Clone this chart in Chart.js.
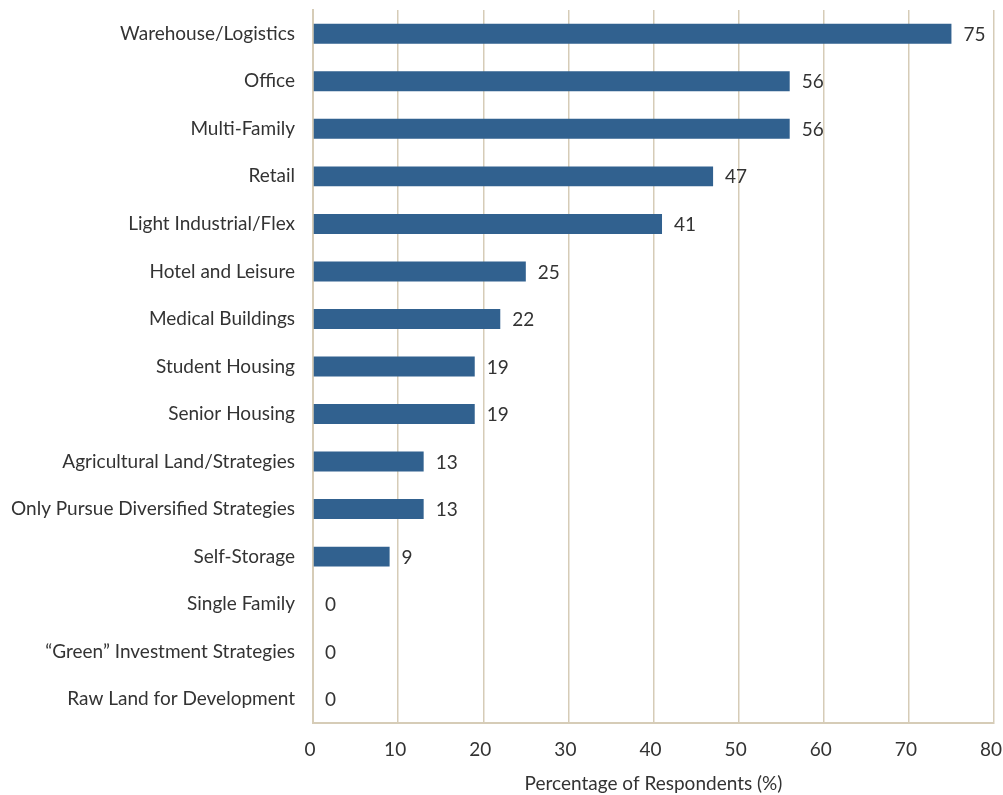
<!DOCTYPE html>
<html>
<head>
<meta charset="utf-8">
<script src="https://cdn.jsdelivr.net/npm/chart.js@4"></script>
<style>
  html, body { margin: 0; padding: 0; background: #fff; }
  #wrap { width: 1003px; height: 795px; }
</style>
</head>
<body>
<div id="wrap"><canvas id="sectorChart" width="1003" height="795"></canvas></div>
<script>
const sectors = [
    'Warehouse/Logistics', 'Office', 'Multi-Family', 'Retail',
    'Light Industrial/Flex', 'Hotel and Leisure', 'Medical Buildings',
    'Student Housing', 'Senior Housing', 'Agricultural Land/Strategies',
    'Only Pursue Diversified Strategies', 'Self-Storage', 'Single Family',
    '\u201CGreen\u201D Investment Strategies', 'Raw Land for Development'
];
const respondents = [75, 56, 56, 47, 41, 25, 22, 19, 19, 13, 13, 9, 0, 0, 0];
const xTicks = [0, 10, 20, 30, 40, 50, 60, 70, 80];

const gridColor = '#d6ccb7';
const textColor = '#333333';
const fontFamily = 'Lato, "Open Sans", sans-serif';
const fontSize = 19;

// value labels to the right of each bar
const barLabels = {
    id: 'barLabels',
    afterDatasetsDraw(chart) {
        const { ctx } = chart;
        const meta = chart.getDatasetMeta(0);
        ctx.save();
        ctx.font = fontSize + 'px ' + fontFamily;
        ctx.fillStyle = textColor;
        ctx.textAlign = 'left';
        ctx.textBaseline = 'middle';
        meta.data.forEach((bar, i) => {
            ctx.fillText(String(respondents[i]), bar.x + 12, bar.y + 1);
        });
        ctx.restore();
    }
};

const ctx = document.getElementById('sectorChart').getContext('2d');

const chart = new Chart(ctx, {
    type: 'bar',
    data: {
        labels: sectors,
        datasets: [{
            data: respondents,
            backgroundColor: '#31618f',
            barPercentage: 0.42,
            categoryPercentage: 1
        }]
    },
    options: {
        indexAxis: 'y',
        animation: false,
        responsive: false,
        layout: { padding: { top: 10, right: 9, left: 0, bottom: 0 } },
        plugins: {
            legend: { display: false },
            tooltip: { enabled: false }
        },
        scales: {
            x: {
                min: 0,
                max: 80,
                afterBuildTicks(scale) {
                    scale.ticks = xTicks.map(v => ({ value: v }));
                },
                afterFit(scale) {
                    scale.height = 72;
                    scale.paddingLeft = 0;
                    scale.paddingRight = 0;
                },
                grid: { color: gridColor, lineWidth: 1.5, drawTicks: false },
                border: { color: gridColor, width: 2 },
                ticks: {
                    color: textColor,
                    padding: 15,
                    labelOffset: -3,
                    font: { family: fontFamily, size: fontSize }
                },
                title: {
                    display: true,
                    text: 'Percentage of Respondents (%)',
                    color: textColor,
                    padding: { top: 10, bottom: 0 },
                    font: { family: fontFamily, size: fontSize }
                }
            },
            y: {
                afterFit(scale) {
                    scale.width = 313;
                    scale.paddingTop = 0;
                    scale.paddingBottom = 0;
                },
                grid: { display: false, drawTicks: false },
                border: { color: gridColor, width: 2 },
                ticks: {
                    color: textColor,
                    padding: 18,
                    font: { family: fontFamily, size: fontSize }
                }
            }
        }
    },
    plugins: [barLabels]
});
</script>
</body>
</html>
